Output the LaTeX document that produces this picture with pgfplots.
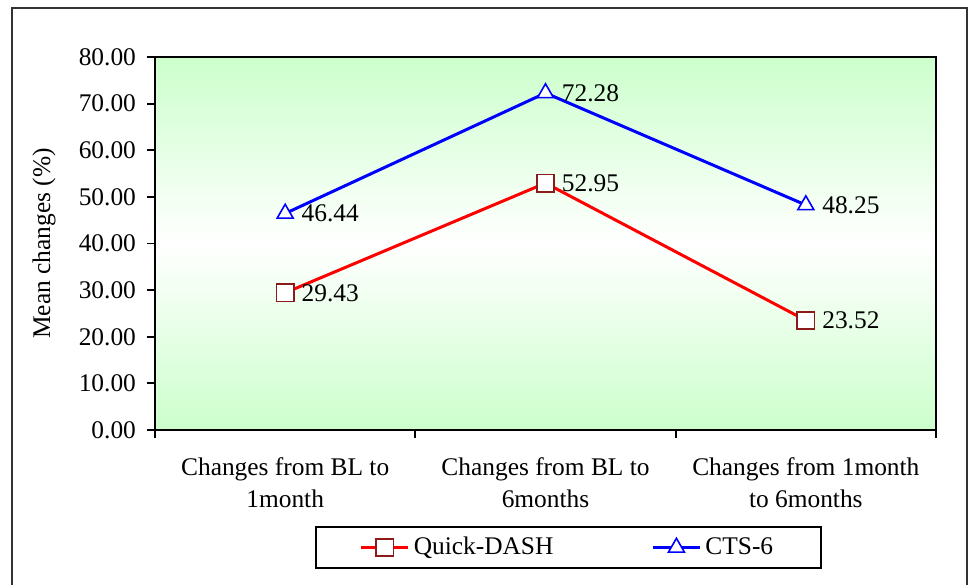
\documentclass[border=0pt]{standalone}
\usepackage{fontspec}
\setmainfont{Liberation Serif}
\usepackage{pgfplots}
\pgfplotsset{compat=1.18}
\definecolor{plotgreen}{HTML}{CCFFCC}
\definecolor{dashred}{HTML}{FF0000}
\definecolor{markred}{HTML}{8B1A1A}
\definecolor{ctsblue}{HTML}{0000FF}

\begin{document}
\begin{tikzpicture}
% page area
\useasboundingbox (-77.5pt,-77pt) rectangle (406.5pt,215pt);
% outer chart frame
\draw[line width=1pt, black!80] (-71.5pt,-90pt) -- (-71.5pt,211pt) -- (405.75pt,211pt) -- (405.75pt,-90pt);
\begin{axis}[
  at={(0pt,0pt)}, anchor=south west,
  scale only axis, width=390.5pt, height=186.5pt,
  font=\fontsize{12.7pt}{16pt}\selectfont,
  xmin=-0.5, xmax=2.5, ymin=0, ymax=80,
  axis line style={line width=0.9pt},
  tick align=outside,
  xtick pos=lower, ytick pos=left,
  major tick length=4pt, minor tick length=4pt,
  tick style={black, line width=0.9pt},
  ytick={0,10,...,80},
  /pgf/number format/assume math mode=true,
  yticklabel style={xshift=-2pt, /pgf/number format/.cd, fixed, fixed zerofill, precision=2},
  xtick={0,1,2},
  xticklabels={{Changes from BL to\\1month},{Changes from BL to\\6months},{Changes from 1month\\to 6months}},
  xticklabel style={align=center, yshift=-6.5pt},
  major x tick style={draw=none},
  minor xtick={-0.5,0.5,1.5,2.5},
  ylabel={Mean changes (\%)},
  every axis y label/.style={at={(axis description cs:-0.142,0.5)}, rotate=90, anchor=center},
  axis background/.style={shade, top color=plotgreen, bottom color=plotgreen, middle color=white},
  nodes near coords,
  point meta=y,
  every node near coord/.append style={anchor=west, xshift=4.5pt, text=black},
  nodes near coords style={/pgf/number format/.cd, fixed, fixed zerofill, precision=2, assume math mode=true},
  legend columns=2,
  legend style={at={(0.5294,-0.315)}, anchor=center, draw=black, line width=0.9pt,
    inner xsep=22pt, inner ysep=3pt,
    /tikz/every even column/.append style={column sep=47pt}},
  legend image code/.code={\draw[mark repeat=2, mark phase=2, #1] plot coordinates {(0pt,0pt) (11.75pt,0pt) (23.5pt,0pt)};},
]
\addplot[dashred, line width=1.5pt, mark=square*, mark size=4.3pt,
  mark options={draw=markred, fill=white, line width=0.8pt}]
  coordinates {(0,29.43) (1,52.95) (2,23.52)};
\addlegendentry{Quick-DASH}
\addplot[ctsblue, line width=1.5pt, mark=triangle*, mark size=4.6pt,
  mark options={draw=ctsblue, fill=white, line width=0.8pt}]
  coordinates {(0,46.44) (1,72.28) (2,48.25)};
\addlegendentry{CTS-6}
\end{axis}
\end{tikzpicture}
\end{document}
